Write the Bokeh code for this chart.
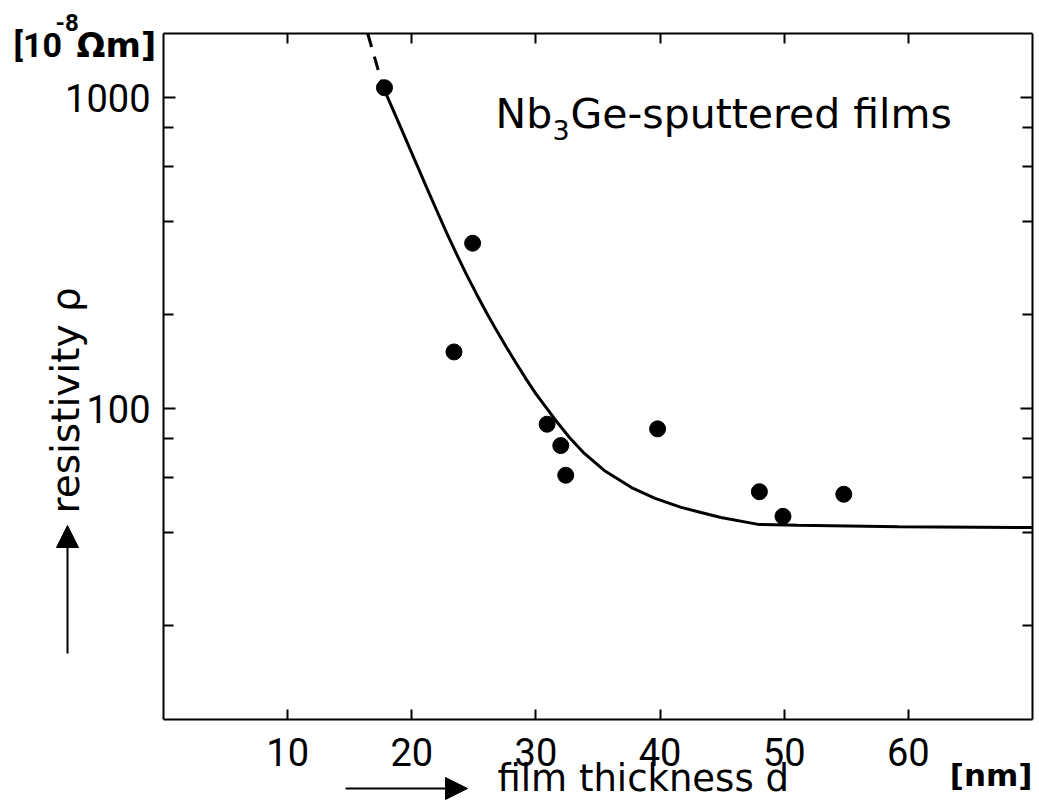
import numpy as np
from bokeh.plotting import figure
from bokeh.models import (Range1d, FixedTicker, LogAxis, LinearAxis, Label, Arrow, NormalHead,
                          PrintfTickFormatter, CustomJSTickFormatter)
from bokeh.embed import file_html
from bokeh.resources import INLINE

# measured films (thickness in nm, resistivity in 10^-8 Ohm m)
thickness_nm = [17.8, 23.4, 24.9, 30.9, 32.0, 32.4, 39.8, 48.0, 49.9, 54.8]
resistivity = [1075, 152, 340, 89, 76, 61, 86, 54, 45, 53]

# fitted curve (solid part)
fit_x = [17.7, 18.0, 18.8, 19.6, 20.4, 21.2, 22.0, 22.8, 23.6, 24.4, 25.2, 26.0,
         26.8, 27.6, 28.4, 29.2, 30.0, 30.8, 31.6, 32.7, 33.9, 35.5, 37.7,
         39.6, 41.7, 43.3, 44.9, 47.9, 51.1, 59.2, 70.0]
fit_y = [1077, 1012, 855, 721, 608, 513, 434, 368, 314, 270, 234, 204,
         179, 158, 140, 124.5, 111.5, 101, 91.5, 80.7, 71.7, 63.2, 55.7,
         51.4, 48.1, 46.3, 44.6, 42.4, 42.1, 41.7, 41.4]
# dashed extrapolation (from the top edge of the box down to the first point)
ext_x = [16.45, 17.7]
ext_y = [1606, 1077]

x_ticks = [10, 20, 30, 40, 50, 60]
y_ticks = [100, 1000]
y_minor = [20, 40, 60, 80, 200, 400, 600, 800]

# box limits of the plotted area (data units)
X_MIN, X_MAX = 0, 70
Y_MIN, Y_MAX = 10, 1606

NUM_FONT = "Roboto"
TXT_FONT = "DejaVu Sans"

W, H = 1036, 802
# page layout of the box: x=0 at px 163, x=70 at px 1032; y decade = 311 px, 1000 at py 97
KX = (1032 - 163) / (X_MAX - X_MIN)
x0 = X_MIN - 163 / KX
x1 = X_MAX + (W - 1032) / KX
y1 = 10 ** (3 + 97 / 311)
y0 = 10 ** (3 - (H - 97) / 311)

p = figure(width=W, height=H, x_range=Range1d(x0, x1), y_range=Range1d(y0, y1),
           y_axis_type="log", output_backend="svg", toolbar_location=None,
           min_border_left=0, min_border_right=0, min_border_top=0, min_border_bottom=0)
p.xgrid.visible = False
p.ygrid.visible = False
p.outline_line_color = None
p.background_fill_color = "white"
p.border_fill_color = "white"

blank = CustomJSTickFormatter(code="return ''")

xa = p.xaxis[0]
xa.fixed_location = Y_MIN
xa.bounds = (X_MIN, X_MAX)
xa.ticker = FixedTicker(ticks=x_ticks)
xa.major_tick_in = 10
xa.major_tick_out = 0
xa.minor_tick_line_color = None
xa.axis_line_width = 2
xa.major_tick_line_width = 2
xa.major_label_text_font = NUM_FONT
xa.major_label_text_font_size = "38px"
xa.major_label_standoff = 18
xa.major_label_text_color = "black"

ya = p.yaxis[0]
ya.fixed_location = X_MIN
ya.bounds = (Y_MIN, Y_MAX)
ya.ticker = FixedTicker(ticks=y_ticks, minor_ticks=y_minor)
ya.formatter = PrintfTickFormatter(format="%d")
ya.major_tick_in = 12
ya.major_tick_out = 0
ya.minor_tick_in = 10
ya.minor_tick_out = 0
ya.axis_line_width = 2
ya.major_tick_line_width = 2
ya.minor_tick_line_width = 2
ya.major_label_text_font = NUM_FONT
ya.major_label_text_font_size = "38px"
ya.major_label_standoff = 13
ya.major_label_text_color = "black"

top = LinearAxis(ticker=FixedTicker(ticks=x_ticks), formatter=blank, fixed_location=Y_MAX,
                 bounds=(X_MIN, X_MAX), major_tick_in=10, major_tick_out=0,
                 minor_tick_line_color=None, major_label_standoff=0,
                 axis_line_width=2, major_tick_line_width=2)
p.add_layout(top, "above")
right = LogAxis(ticker=FixedTicker(ticks=y_ticks, minor_ticks=y_minor), formatter=blank,
                fixed_location=X_MAX, bounds=(Y_MIN, Y_MAX),
                major_tick_in=12, major_tick_out=0, minor_tick_in=10, minor_tick_out=0,
                major_label_standoff=0, axis_line_width=2, major_tick_line_width=2,
                minor_tick_line_width=2)
p.add_layout(right, "right")

p.line(ext_x, ext_y, line_color="black", line_width=3, line_dash="14 10")
p.line(fit_x, fit_y, line_color="black", line_width=3)
p.scatter(thickness_nm, resistivity, size=16, fill_color="black", line_color="black")

BASE_SHIFT = 0.38  # measured offset of the drawn baseline, in em


# annotations placed by page pixel position of the baseline start (px from left, py from top)
def lab(text, px, py, size, font=TXT_FONT, align="left", angle=0, style="normal"):
    s = BASE_SHIFT * size
    if angle:
        px, py = px - s, py
    else:
        py = py - s
    p.add_layout(Label(x=px, y=H - py, x_units="screen", y_units="screen", text=text,
                       text_font=font, text_font_size=f"{size}px", text_align=align,
                       text_baseline="alphabetic", angle=angle, text_color="black",
                       text_font_style=style))


def arrow(px0, py0, px1, py1):
    p.add_layout(Arrow(x_start=px0, y_start=H - py0, x_end=px1, y_end=H - py1,
                       start_units="screen", end_units="screen", line_width=2,
                       line_color="black",
                       end=NormalHead(size=22, fill_color="black", line_color="black")))


# title inside the box
lab("Nb", 495, 129, 41)
lab("3", 552, 140, 27)
lab("Ge-sputtered films", 570, 129, 41)

# units top-left
lab("[10", 13, 57, 34, font=NUM_FONT, style="bold")
lab("-8", 55, 31, 24, font=NUM_FONT, style="bold")
lab("Ωm]", 76, 57, 34, font=TXT_FONT, style="bold")

# y label rotated, with arrow below
lab("resistivity ρ", 80, 513, 39, angle=np.pi / 2)
arrow(67, 653, 67, 525)

# x label with arrow
lab("film thickness d", 497, 792, 37)
arrow(345, 788, 467, 788)
lab("[nm]", 1032, 786, 31, align="right", style="bold")

open("out.html", "w").write(file_html(p, INLINE))
